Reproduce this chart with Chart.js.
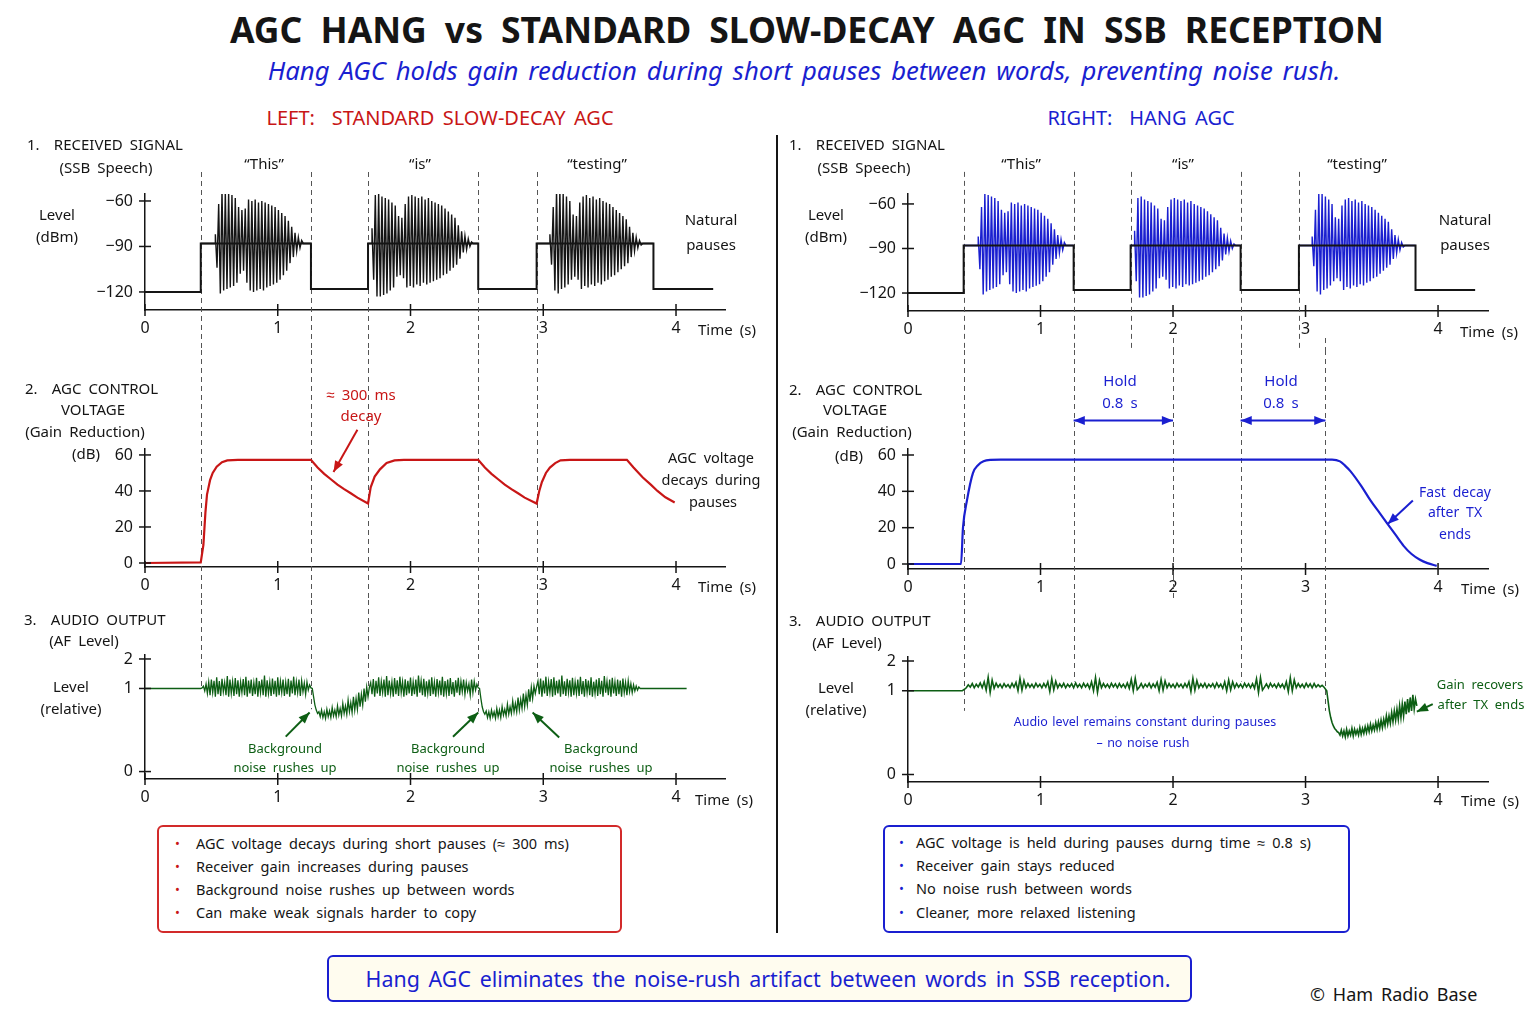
<!DOCTYPE html>
<html>
<head>
<meta charset="utf-8">
<script src="https://cdn.jsdelivr.net/npm/chart.js@4.4.1/dist/chart.umd.min.js"></script>
<style>
  body { margin: 0; background: #fff; }
  #page { position: relative; width: 1536px; height: 1024px; overflow: hidden; background: #fff;
          font-family: "Noto Sans", sans-serif; color: #151515; word-spacing: 0.2em; }
  canvas { position: absolute; }
  .c, .l { position: absolute; white-space: nowrap; line-height: 1; font-size: 15px; }
  .c { transform: translate(-50%, -50%); }
  .l { transform: translate(0, -50%); }
  .red { color: #c81616; }
  .blue { color: #1a1fd0; }
  .green { color: #0d5e14; }
  .sm { font-size: 13px; }
  .xs { font-size: 12.5px; word-spacing: 0.1em; }
  .bl { font-size: 14.5px; }
  .box { position: absolute; border: 2px solid; border-radius: 6px; box-sizing: border-box; }
</style>
</head>
<body>
<div id="page">
  <div class="c" style="left:807px;top:30px;font-size:35.5px;font-weight:bold;word-spacing:0.25em;">AGC HANG vs STANDARD SLOW-DECAY AGC IN SSB RECEPTION</div>
  <div class="c blue" style="left:804px;top:71px;font-size:25.7px;font-style:italic;">Hang AGC holds gain reduction during short pauses between words, preventing noise rush.</div>
  <div class="c red" style="left:440px;top:118px;font-size:20px;">LEFT:&nbsp; STANDARD SLOW-DECAY AGC</div>
  <div class="c blue" style="left:1141px;top:118px;font-size:20px;">RIGHT:&nbsp; HANG AGC</div>

  <div style="position:absolute;left:776px;top:135px;width:2px;height:798px;background:#151515;"></div>

  <canvas id="sigStd"></canvas>
  <canvas id="agcStd"></canvas>
  <canvas id="afStd"></canvas>
  <canvas id="sigHang"></canvas>
  <canvas id="agcHang"></canvas>
  <canvas id="afHang"></canvas>

  <!-- left column labels -->
  <div class="l" style="left:27px;top:144px;">1.&nbsp; RECEIVED SIGNAL</div>
  <div class="c" style="left:106px;top:167px;">(SSB Speech)</div>
  <div class="c" style="left:57px;top:214px;">Level</div>
  <div class="c" style="left:57px;top:236px;">(dBm)</div>
  <div class="c" style="left:264px;top:163px;">“This”</div>
  <div class="c" style="left:420px;top:163px;">“is”</div>
  <div class="c" style="left:597px;top:163px;">“testing”</div>
  <div class="c" style="left:711px;top:219px;">Natural</div>
  <div class="c" style="left:711px;top:244px;">pauses</div>
  <div class="l" style="left:698px;top:329px;">Time (s)</div>

  <div class="l" style="left:25px;top:388px;">2.&nbsp; AGC CONTROL</div>
  <div class="c" style="left:93px;top:409px;">VOLTAGE</div>
  <div class="c" style="left:85px;top:431px;">(Gain Reduction)</div>
  <div class="c" style="left:86px;top:453px;">(dB)</div>
  <div class="c red" style="left:361px;top:394px;">≈ 300 ms</div>
  <div class="c red" style="left:361px;top:415px;">decay</div>
  <div class="c bl" style="left:711px;top:457px;">AGC voltage</div>
  <div class="c bl" style="left:711px;top:479px;">decays during</div>
  <div class="c bl" style="left:713px;top:501px;">pauses</div>
  <div class="l" style="left:698px;top:586px;">Time (s)</div>

  <div class="l" style="left:24px;top:619px;">3.&nbsp; AUDIO OUTPUT</div>
  <div class="c" style="left:84px;top:640px;">(AF Level)</div>
  <div class="c" style="left:71px;top:686px;">Level</div>
  <div class="c" style="left:71px;top:708px;">(relative)</div>
  <div class="c green sm" style="left:285px;top:748px;">Background</div>
  <div class="c green sm" style="left:285px;top:767px;">noise rushes up</div>
  <div class="c green sm" style="left:448px;top:748px;">Background</div>
  <div class="c green sm" style="left:448px;top:767px;">noise rushes up</div>
  <div class="c green sm" style="left:601px;top:748px;">Background</div>
  <div class="c green sm" style="left:601px;top:767px;">noise rushes up</div>
  <div class="l" style="left:695px;top:799px;">Time (s)</div>

  <!-- right column labels -->
  <div class="l" style="left:789px;top:144px;">1.&nbsp; RECEIVED SIGNAL</div>
  <div class="c" style="left:864px;top:167px;">(SSB Speech)</div>
  <div class="c" style="left:826px;top:214px;">Level</div>
  <div class="c" style="left:826px;top:236px;">(dBm)</div>
  <div class="c" style="left:1021px;top:163px;">“This”</div>
  <div class="c" style="left:1183px;top:163px;">“is”</div>
  <div class="c" style="left:1357px;top:163px;">“testing”</div>
  <div class="c" style="left:1465px;top:219px;">Natural</div>
  <div class="c" style="left:1465px;top:244px;">pauses</div>
  <div class="l" style="left:1460px;top:331px;">Time (s)</div>

  <div class="l" style="left:789px;top:389px;">2.&nbsp; AGC CONTROL</div>
  <div class="c" style="left:855px;top:409px;">VOLTAGE</div>
  <div class="c" style="left:852px;top:431px;">(Gain Reduction)</div>
  <div class="c" style="left:849px;top:455px;">(dB)</div>
  <div class="c blue" style="left:1120px;top:380px;">Hold</div>
  <div class="c blue" style="left:1120px;top:402px;">0.8 s</div>
  <div class="c blue" style="left:1281px;top:380px;">Hold</div>
  <div class="c blue" style="left:1281px;top:402px;">0.8 s</div>
  <div class="c blue bl" style="left:1455px;top:492px;font-size:14px;">Fast decay</div>
  <div class="c blue bl" style="left:1455px;top:512px;font-size:14px;">after TX</div>
  <div class="c blue bl" style="left:1455px;top:534px;font-size:14px;">ends</div>
  <div class="l" style="left:1461px;top:588px;">Time (s)</div>

  <div class="l" style="left:789px;top:620px;">3.&nbsp; AUDIO OUTPUT</div>
  <div class="c" style="left:847px;top:642px;">(AF Level)</div>
  <div class="c" style="left:836px;top:687px;">Level</div>
  <div class="c" style="left:836px;top:709px;">(relative)</div>
  <div class="c blue xs" style="left:1145px;top:722px;">Audio level remains constant during pauses</div>
  <div class="c blue xs" style="left:1143px;top:743px;">– no noise rush</div>
  <div class="c green sm" style="left:1480px;top:684px;">Gain recovers</div>
  <div class="c green sm" style="left:1481px;top:704px;">after TX ends</div>
  <div class="l" style="left:1461px;top:800px;">Time (s)</div>

  <!-- summary boxes -->
  <div class="box" style="left:157px;top:825px;width:465px;height:108px;border-color:#d22a2a;"></div>
  <div class="l red" style="left:175px;top:843px;font-size:13px;">•</div>
  <div class="l red" style="left:175px;top:866px;font-size:13px;">•</div>
  <div class="l red" style="left:175px;top:889px;font-size:13px;">•</div>
  <div class="l red" style="left:175px;top:912px;font-size:13px;">•</div>
  <div class="l bl" style="left:196px;top:843px;">AGC voltage decays during short pauses (≈ 300 ms)</div>
  <div class="l bl" style="left:196px;top:866px;">Receiver gain increases during pauses</div>
  <div class="l bl" style="left:196px;top:889px;">Background noise rushes up between words</div>
  <div class="l bl" style="left:196px;top:912px;">Can make weak signals harder to copy</div>

  <div class="box" style="left:883px;top:825px;width:467px;height:108px;border-color:#1a1fd0;"></div>
  <div class="l blue" style="left:899px;top:842px;font-size:13px;">•</div>
  <div class="l blue" style="left:899px;top:865px;font-size:13px;">•</div>
  <div class="l blue" style="left:899px;top:888px;font-size:13px;">•</div>
  <div class="l blue" style="left:899px;top:912px;font-size:13px;">•</div>
  <div class="l bl" style="left:916px;top:842px;">AGC voltage is held during pauses durng time ≈ 0.8 s)</div>
  <div class="l bl" style="left:916px;top:865px;">Receiver gain stays reduced</div>
  <div class="l bl" style="left:916px;top:888px;">No noise rush between words</div>
  <div class="l bl" style="left:916px;top:912px;">Cleaner, more relaxed listening</div>

  <div class="box" style="left:327px;top:955px;width:865px;height:47px;border-color:#1a1fd0;background:#fffcef;"></div>
  <div class="c blue" style="left:768px;top:979px;font-size:21.4px;">Hang AGC eliminates the noise-rush artifact between words in SSB reception.</div>
  <div class="l" style="left:1310px;top:994px;font-size:18px;">© Ham Radio Base</div>
</div>

<script>
"use strict";
const FONT = '"Noto Sans", sans-serif';
const INK = '#151515';
const RED = '#c81616';
const BLUE = '#1a1fd0';
const GREEN = '#0d5e14';
const AXIS_Y_W = 50;
const AXIS_X_H = 30;

// ticks
const timeTicks = [0, 1, 2, 3, 4];
const levelTicks = [-120, -90, -60];
const agcTicks = [0, 20, 40, 60];
const audioTicks = [0, 1, 2];

// 1. received signal (dBm)
const wordStart = [0.42, 1.68, 2.95];
const wordEnd = [1.25, 2.51, 3.83];
const pauseLevel = [-120, -118, -118, -118];
const plateauLevel = -88;
const signalEnd = 4.28;
const burstStart = [0.53, 1.71, 3.05];
const burstStep = 0.0125;
const burstThis = [-82, -104, -62, -121, -53, -119, -54, -118, -55, -117, -56, -116, -58, -114, -64, -108,
  -66, -106, -65, -114, -59, -119, -60, -120, -59, -119, -61, -118, -60, -119, -61, -117, -62, -116, -63,
  -115, -64, -114, -66, -112, -68, -109, -70, -106, -73, -101, -77, -97, -81, -93, -84, -91, -86];
const burstIs = [-78, -112, -56, -123, -55, -123, -57, -122, -58, -121, -59, -119, -61, -117, -63, -110,
  -70, -109, -71, -111, -62, -117, -57, -116, -56, -117, -57, -115, -58, -116, -57, -114, -59, -115, -58,
  -114, -60, -113, -61, -112, -62, -111, -63, -109, -65, -108, -67, -106, -69, -104, -71, -102, -76, -98,
  -80, -94, -83, -92, -85, -90, -87];
const burstTesting = [-82, -102, -64, -119, -53, -121, -53, -118, -55, -117, -57, -115, -60, -112, -69,
  -110, -70, -112, -61, -118, -57, -116, -56, -117, -58, -115, -57, -116, -59, -114, -58, -115, -60, -113,
  -61, -112, -62, -110, -64, -109, -66, -107, -68, -105, -70, -103, -72, -101, -77, -97, -81, -93, -84,
  -91, -86, -89];
const bursts = [burstThis, burstIs, burstTesting];

// 2. AGC control voltage (dB)
const agcStdT = [0, 0.42, 0.44, 0.455, 0.467, 0.49, 0.51, 0.54, 0.58, 0.62, 0.7, 1.25,
  1.30, 1.35, 1.40, 1.45, 1.50, 1.55, 1.60, 1.68,
  1.70, 1.73, 1.77, 1.82, 1.88, 1.95, 2.51,
  2.56, 2.61, 2.66, 2.71, 2.76, 2.81, 2.86, 2.95,
  2.97, 2.99, 3.02, 3.05, 3.09, 3.13, 3.2, 3.63,
  3.68, 3.75, 3.81, 3.86, 3.92, 3.99];
const agcStdV = [0, 0.3, 10, 28, 38, 46, 50, 53.5, 56, 57, 57.3, 57.3,
  53, 49.5, 46.5, 43.5, 41, 38.7, 36.3, 33,
  42, 48, 52, 55.5, 57, 57.3, 57.3,
  53, 49.5, 46.5, 43.5, 41, 38.7, 36.3, 33,
  40, 45, 50, 53, 55.5, 57, 57.3, 57.3,
  53, 47.5, 43.5, 40, 36.5, 33.6];
const agcHangT = [0, 0.40, 0.415, 0.445, 0.49, 0.53, 0.57, 0.62, 0.7, 3.2, 3.26, 3.3, 3.34, 3.42,
  3.49, 3.56, 3.62, 3.68, 3.74, 3.8, 3.86, 3.92, 3.99];
const agcHangV = [0, 0, 20, 35, 50, 54.5, 56.5, 57.3, 57.5, 57.5, 56.5, 54, 51, 43,
  35, 28, 22, 16, 10, 5.5, 2.5, 0.5, -1];
const holdStart = [1.25, 2.51];
const holdEnd = [2.0, 3.15];

// 3. audio output (relative)
const afStdHeadT = [0, 0.42];
const afStdHeadV = [1, 1];
const afStdTailT = [3.76, 4.08];
const afStdTailV = [1, 1];
const afStdSegStart = [0.43, 1.26, 1.69, 2.52, 2.95];
const afStdStep = 0.01;
const afWord1 = [1.02, 1.08, 0.97, 1.15, 0.94, 1.22, 0.92, 1.3, 0.95, 1.26, 0.9, 1.38, 0.93, 1.25, 0.91,
  1.33, 0.96, 1.2, 0.92, 1.42, 0.9, 1.3, 0.94, 1.24, 0.91, 1.35, 0.93, 1.28, 0.9, 1.22, 0.95, 1.32, 0.92,
  1.4, 0.9, 1.27, 0.94, 1.3, 0.91, 1.2, 0.93, 1.36, 0.9, 1.25, 0.95, 1.3, 0.92, 1.44, 0.9, 1.28, 0.94,
  1.22, 0.91, 1.34, 0.93, 1.26, 0.9, 1.38, 0.92, 1.24, 0.95, 1.3, 0.91, 1.21, 0.93, 1.33, 0.9, 1.27, 0.94,
  1.4, 0.92, 1.23, 0.95, 1.3, 0.91, 1.26, 0.96, 1.18, 0.93, 1.22, 0.98, 1.12, 1.02];
const afDip1 = [1.0, 0.9, 0.8, 0.74, 0.7, 0.72, 0.66, 0.74, 0.65, 0.72, 0.64, 0.75, 0.66, 0.73, 0.65, 0.77,
  0.67, 0.74, 0.66, 0.79, 0.68, 0.76, 0.67, 0.82, 0.7, 0.79, 0.69, 0.86, 0.72, 0.83, 0.71, 0.9, 0.74, 0.88,
  0.75, 0.95, 0.78, 0.93, 0.8, 1.0, 0.84, 1.05, 0.9];
const afWord2 = [1.04, 1.2, 0.93, 1.32, 0.9, 1.26, 0.94, 1.38, 0.91, 1.24, 0.95, 1.3, 0.9, 1.42, 0.92, 1.27,
  0.94, 1.22, 0.9, 1.35, 0.93, 1.28, 0.91, 1.4, 0.95, 1.23, 0.9, 1.31, 0.92, 1.26, 0.94, 1.37, 0.91, 1.22,
  0.93, 1.3, 0.9, 1.44, 0.95, 1.26, 0.92, 1.33, 0.9, 1.24, 0.94, 1.3, 0.91, 1.38, 0.93, 1.21, 0.9, 1.32,
  0.95, 1.27, 0.92, 1.4, 0.9, 1.25, 0.94, 1.3, 0.91, 1.35, 0.93, 1.22, 0.9, 1.28, 0.95, 1.36, 0.92, 1.24,
  0.96, 1.3, 0.93, 1.2, 0.97, 1.15, 0.92, 1.3, 0.95, 1.24, 0.98, 1.14, 1.02];
const afDip2 = [1.0, 0.88, 0.78, 0.72, 0.69, 0.73, 0.65, 0.72, 0.64, 0.74, 0.66, 0.72, 0.64, 0.76, 0.66,
  0.74, 0.65, 0.78, 0.68, 0.75, 0.67, 0.81, 0.69, 0.78, 0.7, 0.85, 0.72, 0.82, 0.72, 0.89, 0.74, 0.87, 0.76,
  0.94, 0.78, 0.92, 0.8, 0.99, 0.84, 1.04, 0.88, 1.08, 0.94];
const afWord3 = [1.06, 1.25, 0.93, 1.34, 0.9, 1.27, 0.94, 1.4, 0.91, 1.23, 0.95, 1.32, 0.9, 1.38, 0.92,
  1.26, 0.94, 1.3, 0.9, 1.44, 0.93, 1.24, 0.91, 1.33, 0.95, 1.28, 0.9, 1.36, 0.92, 1.22, 0.94, 1.3, 0.91,
  1.4, 0.93, 1.25, 0.9, 1.32, 0.95, 1.27, 0.92, 1.38, 0.9, 1.23, 0.94, 1.3, 0.91, 1.35, 0.93, 1.26, 0.9,
  1.42, 0.95, 1.24, 0.92, 1.3, 0.9, 1.36, 0.94, 1.22, 0.91, 1.3, 0.93, 1.27, 0.9, 1.34, 0.95, 1.2, 0.92,
  1.26, 0.96, 1.16, 0.95, 1.12, 0.97, 1.08, 0.98, 1.05, 1.0];
const afStdSegs = [afWord1, afDip1, afWord2, afDip2, afWord3];

const afHangHeadT = [0, 0.41, 0.43];
const afHangHeadV = [1, 1, 1.06];
const afHangSegStart = [0.44, 3.16];
const afHangSegStep = [0.015, 0.01];
const afHold = [1.1, 1.2, 1.12, 1.24, 1.1, 1.22, 1.13, 1.26, 1.1, 1.3,
  1.02, 1.45, 0.98, 1.36,
  1.08, 1.25, 1.12, 1.22, 1.1, 1.24, 1.13, 1.21, 1.1, 1.25, 1.12, 1.28,
  1.0, 1.42, 1.02, 1.34,
  1.1, 1.24, 1.12, 1.22, 1.1, 1.25, 1.13, 1.22, 1.1, 1.24, 1.12, 1.3,
  0.99, 1.4, 1.03, 1.32,
  1.1, 1.23, 1.12, 1.25, 1.1, 1.22, 1.13, 1.24, 1.1, 1.26, 1.12, 1.22, 1.1, 1.25, 1.13, 1.23, 1.08, 1.3,
  1.0, 1.44, 0.98, 1.35,
  1.1, 1.24, 1.12, 1.22, 1.1, 1.25, 1.13, 1.23, 1.1, 1.24, 1.12, 1.22, 1.1, 1.26, 1.08,
  1.38, 1.0, 1.42, 1.04,
  1.12, 1.24, 1.1, 1.22, 1.13, 1.25, 1.1, 1.23, 1.12, 1.28,
  1.0, 1.38, 1.02, 1.33,
  1.1, 1.24, 1.12, 1.22, 1.1, 1.25, 1.13, 1.22, 1.1, 1.24, 1.12, 1.3,
  0.99, 1.42, 1.02, 1.34,
  1.1, 1.23, 1.12, 1.25, 1.1, 1.22, 1.13, 1.24, 1.1, 1.26, 1.12, 1.22, 1.08, 1.3,
  1.0, 1.36, 1.03, 1.3,
  1.1, 1.24, 1.12, 1.22, 1.1, 1.25, 1.13, 1.23, 1.1, 1.24, 1.08,
  1.4, 0.98, 1.44, 1.02,
  1.12, 1.23, 1.1, 1.25, 1.13, 1.22, 1.1, 1.24, 1.12, 1.22, 1.08, 1.3,
  0.99, 1.44, 1.0, 1.36,
  1.1, 1.24, 1.12, 1.22, 1.1, 1.25, 1.13, 1.23, 1.1, 1.24, 1.12, 1.2, 1.13, 1.18, 1.12];
const afRecover = [1.0, 0.88, 0.76, 0.68, 0.62, 0.58, 0.55, 0.53, 0.51, 0.5,
  0.47, 0.53, 0.46, 0.52, 0.45, 0.54, 0.46, 0.52, 0.47, 0.55,
  0.46, 0.54, 0.48, 0.53, 0.47, 0.56, 0.48, 0.55, 0.49, 0.57,
  0.5, 0.58, 0.51, 0.6, 0.52, 0.59, 0.53, 0.62, 0.54, 0.63,
  0.55, 0.65, 0.56, 0.66, 0.58, 0.7, 0.6, 0.7, 0.61, 0.74,
  0.63, 0.76, 0.65, 0.78, 0.66, 0.82, 0.68, 0.84, 0.7, 0.87,
  0.72, 0.9, 0.74, 0.92, 0.76, 0.95, 0.78, 0.9, 0.82];
const afHangSegs = [afHold, afRecover];

// audio axis is stretched below 1 and squeezed above it
const afKnotValue = [-0.08, 0, 1, 2, 2.13];
const afKnotDecimal = [0, 0.06, 0.73, 0.968, 1];

class KneeScale extends Chart.LinearScale {
  getPixelForValue(value) {
    if (value === null || value === undefined) return NaN;
    let i = 1;
    while (i < afKnotValue.length - 1 && value > afKnotValue[i]) i++;
    const f = afKnotDecimal[i - 1] + (value - afKnotValue[i - 1]) /
      (afKnotValue[i] - afKnotValue[i - 1]) * (afKnotDecimal[i] - afKnotDecimal[i - 1]);
    return this.getPixelForDecimal(f);
  }
}
KneeScale.id = 'knee';
KneeScale.defaults = Chart.LinearScale.defaults;
Chart.register(KneeScale);

function zipPoints(ts, vs) {
  return ts.map((t, i) => ({ x: t, y: vs[i] }));
}

function stepPoints(start, step, vs) {
  return vs.map((v, i) => ({ x: start + i * step, y: v }));
}

function signalEnvelope() {
  let pts = [{ x: 0, y: pauseLevel[0] }];
  wordStart.forEach((ws, k) => {
    pts.push({ x: ws, y: pauseLevel[k] }, { x: ws, y: plateauLevel },
      { x: wordEnd[k], y: plateauLevel }, { x: wordEnd[k], y: pauseLevel[k + 1] });
  });
  pts.push({ x: signalEnd, y: pauseLevel[pauseLevel.length - 1] });
  return pts;
}

function signalBursts() {
  let pts = [];
  wordStart.forEach((ws, k) => {
    const b = bursts[k];
    pts.push({ x: ws, y: plateauLevel }, { x: burstStart[k], y: plateauLevel });
    pts = pts.concat(stepPoints(burstStart[k], burstStep, b));
    pts.push({ x: burstStart[k] + b.length * burstStep, y: plateauLevel },
      { x: wordEnd[k], y: plateauLevel }, { x: wordEnd[k], y: null });
  });
  return pts;
}

function audioStd() {
  let pts = zipPoints(afStdHeadT, afStdHeadV);
  afStdSegs.forEach((seg, k) => { pts = pts.concat(stepPoints(afStdSegStart[k], afStdStep, seg)); });
  return pts.concat(zipPoints(afStdTailT, afStdTailV));
}

function audioHang() {
  let pts = zipPoints(afHangHeadT, afHangHeadV);
  afHangSegs.forEach((seg, k) => { pts = pts.concat(stepPoints(afHangSegStart[k], afHangSegStep[k], seg)); });
  return pts;
}

function drawHead(ctx, x1, y1, x2, y2) {
  const ang = Math.atan2(y2 - y1, x2 - x1);
  const size = 12;
  ctx.beginPath();
  ctx.moveTo(x2, y2);
  ctx.lineTo(x2 - size * Math.cos(ang - 0.38), y2 - size * Math.sin(ang - 0.38));
  ctx.lineTo(x2 - size * Math.cos(ang + 0.38), y2 - size * Math.sin(ang + 0.38));
  ctx.closePath();
  ctx.fill();
}

// dashed guides, crossing tick marks and arrows, all placed through the chart scales
function marks(guides, arrows) {
  return {
    id: 'marks',
    beforeDatasetsDraw(chart) {
      const { ctx, scales: { x, y } } = chart;
      ctx.save();
      ctx.strokeStyle = '#555';
      ctx.lineWidth = 1;
      ctx.setLineDash([5, 4]);
      guides.forEach(g => {
        const px = Math.round(x.getPixelForValue(g.x)) + 0.5;
        const y1 = g.from === 'top' ? 0 : y.getPixelForValue(g.from);
        const y2 = g.to === 'bottom' ? chart.height : y.getPixelForValue(g.to);
        ctx.beginPath();
        ctx.moveTo(px, y1);
        ctx.lineTo(px, y2);
        ctx.stroke();
      });
      ctx.restore();
    },
    afterDraw(chart) {
      const { ctx, chartArea: a, scales: { x, y } } = chart;
      ctx.save();
      ctx.strokeStyle = INK;
      ctx.lineWidth = 1.5;
      x.ticks.forEach(t => {
        const px = x.getPixelForValue(t.value);
        ctx.beginPath(); ctx.moveTo(px, a.bottom - 6); ctx.lineTo(px, a.bottom + 6); ctx.stroke();
      });
      y.ticks.forEach(t => {
        const py = y.getPixelForValue(t.value);
        ctx.beginPath(); ctx.moveTo(a.left - 6, py); ctx.lineTo(a.left + 6, py); ctx.stroke();
      });
      arrows.forEach(ar => {
        const x1 = x.getPixelForValue(ar.x1), y1 = y.getPixelForValue(ar.y1);
        const x2 = x.getPixelForValue(ar.x2), y2 = y.getPixelForValue(ar.y2);
        ctx.strokeStyle = ar.color;
        ctx.fillStyle = ar.color;
        ctx.lineWidth = 2;
        ctx.beginPath(); ctx.moveTo(x1, y1); ctx.lineTo(x2, y2); ctx.stroke();
        drawHead(ctx, x1, y1, x2, y2);
        if (ar.both) drawHead(ctx, x2, y2, x1, y1);
      });
      ctx.restore();
    }
  };
}

function xAxis(max) {
  return {
    type: 'linear', min: 0, max: max,
    afterFit: s => { s.height = AXIS_X_H; },
    afterBuildTicks: s => { s.ticks = timeTicks.map(v => ({ value: v })); },
    grid: { display: false, drawTicks: false },
    border: { display: true, color: INK, width: 1.5 },
    ticks: { color: INK, font: { size: 16, family: FONT }, padding: 9, maxRotation: 0 }
  };
}

function yAxis(type, min, max, tickValues) {
  return {
    type: type, min: min, max: max,
    afterFit: s => { s.width = AXIS_Y_W; },
    afterBuildTicks: s => { s.ticks = tickValues.map(v => ({ value: v })); },
    grid: { display: false, drawTicks: false },
    border: { display: true, color: INK, width: 1.5 },
    ticks: {
      color: INK, font: { size: 16, family: FONT }, padding: 12,
      callback: v => (v < 0 ? '\u2212' + Math.abs(v) : String(v))
    }
  };
}

function panel(id, box, area, scales, datasets, guides, arrows) {
  const canvas = document.getElementById(id);
  const w = box[2] - box[0], h = box[3] - box[1];
  canvas.width = w;
  canvas.height = h;
  canvas.style.left = box[0] + 'px';
  canvas.style.top = box[1] + 'px';
  canvas.style.width = w + 'px';
  canvas.style.height = h + 'px';
  new Chart(canvas, {
    type: 'line',
    data: { datasets: datasets },
    options: {
      responsive: false,
      animation: false,
      events: [],
      layout: {
        padding: {
          left: area[0] - box[0] - AXIS_Y_W,
          top: area[1] - box[1],
          right: box[2] - area[2],
          bottom: box[3] - area[3] - AXIS_X_H
        }
      },
      elements: { point: { radius: 0 }, line: { tension: 0 } },
      plugins: { legend: { display: false }, tooltip: { enabled: false } },
      scales: scales
    },
    plugins: [marks(guides, arrows)]
  });
}

function line(data, color, width, extra) {
  return Object.assign({ data: data, borderColor: color, borderWidth: width, spanGaps: false, fill: false }, extra || {});
}

const wordEdges = [wordStart[0], wordEnd[0], wordStart[1], wordEnd[1], wordStart[2]];

// left column: standard slow-decay AGC
panel('sigStd', [0, 130, 772, 350], [145, 194, 725, 310],
  { x: xAxis(4.369), y: yAxis('linear', -131.9, -55.4, levelTicks) },
  [line(signalEnvelope(), INK, 2), line(signalBursts(), INK, 1.4)],
  wordEdges.map(v => ({ x: v, from: -40.9, to: 'bottom' })), []);

panel('agcStd', [0, 350, 772, 600], [145, 449, 725, 567],
  { x: xAxis(4.369), y: yAxis('linear', -2.22, 63.3, agcTicks) },
  [line(zipPoints(agcStdT, agcStdV), RED, 2.2)],
  wordEdges.map(v => ({ x: v, from: 'top', to: 'bottom' })),
  [{ x1: 1.60, y1: 74, x2: 1.42, y2: 50.5, color: RED }]);

const stdGuideEnd = [1.07, 0.75, 0.99, 0.72, 1.37];
panel('afStd', [0, 600, 772, 820], [145, 655, 725, 779],
  { x: xAxis(4.369), y: yAxis('knee', -0.08, 2.13, audioTicks) },
  [line(audioStd(), GREEN, 1.3)],
  wordEdges.map((v, i) => ({ x: v, from: 'top', to: stdGuideEnd[i] })),
  [{ x1: 1.06, y1: 0.42, x2: 1.24, y2: 0.71, color: GREEN },
   { x1: 2.32, y1: 0.42, x2: 2.51, y2: 0.71, color: GREEN },
   { x1: 3.12, y1: 0.41, x2: 2.92, y2: 0.71, color: GREEN }]);

// right column: hang AGC
panel('sigHang', [780, 130, 1536, 350], [908, 194, 1488, 311],
  { x: xAxis(4.377), y: yAxis('linear', -132.1, -53.3, levelTicks) },
  [line(signalEnvelope(), INK, 2), line(signalBursts(), BLUE, 1.4)],
  wordEdges.map(v => ({ x: v, from: -38.4, to: 'bottom' }))
    .concat(holdEnd.map(v => ({ x: v, from: -150.3, to: 'bottom' }))), []);

panel('agcHang', [780, 350, 1536, 600], [908, 449, 1488, 569],
  { x: xAxis(4.377), y: yAxis('linear', -2.75, 63.3, agcTicks) },
  [line(zipPoints(agcHangT, agcHangV), BLUE, 2.2, { cubicInterpolationMode: 'monotone' })],
  [wordStart[0]].concat(holdStart, holdEnd).map(v => ({ x: v, from: 'top', to: 'bottom' })),
  holdStart.map((v, i) => ({ x1: v, y1: 79, x2: holdEnd[i], y2: 79, color: BLUE, both: true }))
    .concat([{ x1: 3.81, y1: 35, x2: 3.62, y2: 22, color: BLUE }]));

panel('afHang', [780, 600, 1536, 820], [908, 657, 1488, 782],
  { x: xAxis(4.377), y: yAxis('knee', -0.08, 2.13, audioTicks) },
  [line(audioHang(), GREEN, 1.6)],
  [{ x: wordStart[0], from: 'top', to: 0.76 }, { x: holdStart[0], from: 'top', to: 1.31 },
   { x: holdStart[1], from: 'top', to: 1.31 }, { x: holdEnd[1], from: 'top', to: 0.76 }],
  [{ x1: 3.96, y1: 0.84, x2: 3.84, y2: 0.75, color: GREEN }]);
</script>
</body>
</html>
